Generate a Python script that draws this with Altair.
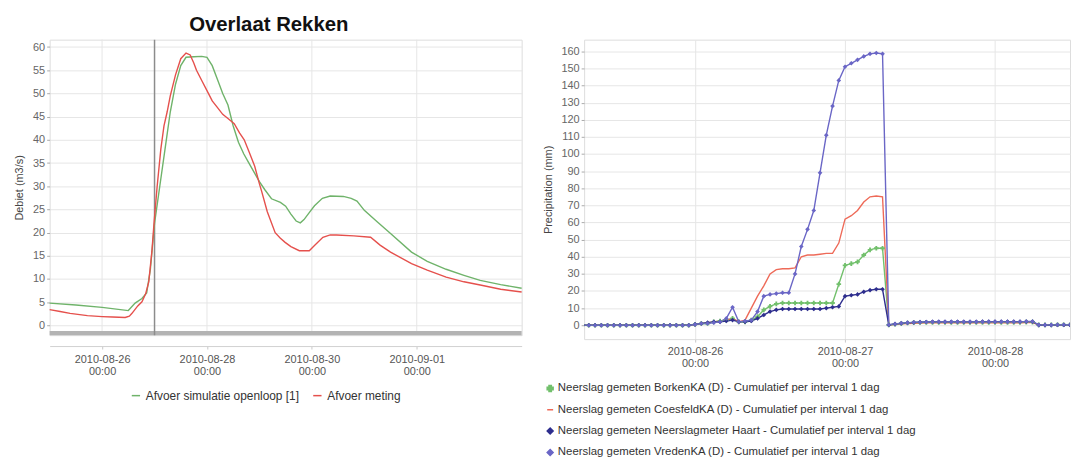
import altair as alt
import pandas as pd

FONT = "Liberation Sans"

# ---------------- Left panel: Overlaat Rekken (discharge, m3/s) ----------------
SIM_NAME = "Afvoer simulatie openloop [1]"
MET_NAME = "Afvoer meting"
left_start = "2010-08-25"
# day offsets from 2010-08-25 00:00
sim_day = [0.00, 0.50, 1.00, 1.50, 1.63, 1.76, 1.85, 1.92, 2.00, 2.10, 2.20, 2.30, 2.40,
           2.50, 2.60, 2.75, 2.90, 3.00, 3.10, 3.20, 3.30, 3.40, 3.50, 3.60, 3.70, 3.80,
           3.90, 4.00, 4.10, 4.23, 4.40, 4.50, 4.60, 4.70, 4.78, 4.85, 4.95, 5.05, 5.20,
           5.35, 5.60, 5.75, 5.86, 6.00, 6.25, 6.50, 6.90, 7.20, 7.56, 7.90, 8.21, 8.60, 9.00]
sim_val = [4.8, 4.4, 3.9, 3.2, 4.8, 5.8, 7.0, 12.0, 22.0, 30.0, 38.0, 46.0, 52.0,
           56.0, 57.8, 57.9, 58.0, 57.8, 56.0, 53.0, 50.0, 47.5, 43.0, 39.5, 37.0, 35.0,
           33.0, 31.0, 29.3, 27.3, 26.5, 25.7, 24.0, 22.5, 22.1, 22.8, 24.3, 25.8, 27.4,
           27.9, 27.8, 27.4, 26.8, 24.8, 22.3, 19.8, 15.8, 13.8, 12.1, 10.8, 9.7, 8.8, 8.0]
met_day = [0.00, 0.20, 0.39, 0.72, 1.00, 1.20, 1.44, 1.52, 1.57, 1.68, 1.76, 1.83, 1.89,
           1.95, 1.99, 2.05, 2.12, 2.18, 2.24, 2.30, 2.40, 2.50, 2.60, 2.68, 2.75, 2.80,
           2.90, 3.00, 3.10, 3.19, 3.30, 3.40, 3.52, 3.62, 3.71, 3.80, 3.91, 4.00, 4.04,
           4.15, 4.30, 4.40, 4.49, 4.60, 4.76, 4.95, 5.05, 5.21, 5.35, 5.47, 5.80, 6.12,
           6.30, 6.50, 6.90, 7.20, 7.56, 7.90, 8.21, 8.60, 9.00]
met_val = [3.4, 3.0, 2.6, 2.1, 1.9, 1.8, 1.7, 2.0, 2.6, 4.2, 5.1, 6.8, 9.4,
           16.0, 22.0, 30.0, 38.0, 43.0, 46.0, 49.5, 54.0, 57.5, 58.7, 58.3, 56.5, 55.0,
           52.8, 50.6, 48.4, 47.1, 45.5, 44.6, 43.5, 41.5, 40.0, 37.5, 34.3, 30.5, 29.0,
           24.5, 20.0, 18.8, 17.9, 17.0, 16.1, 16.1, 17.2, 19.0, 19.5, 19.5, 19.3, 19.0,
           17.3, 15.8, 13.3, 11.9, 10.4, 9.4, 8.7, 7.8, 7.2]
left_ticks = ["2010-08-26", "2010-08-28", "2010-08-30", "2010-09-01"]
left_now = ["2010-08-27"]
left_y_ticks = [0, 5, 10, 15, 20, 25, 30, 35, 40, 45, 50, 55, 60]

# ---------------- Right panel: cumulative precipitation (mm), hourly ----------------
rain_first_hour = "2010-08-25 06:00"
BORKEN = "Neerslag gemeten BorkenKA (D)  - Cumulatief per interval  1 dag"
COESFELD = "Neerslag gemeten CoesfeldKA (D)  - Cumulatief per interval  1 dag"
HAART = "Neerslag gemeten Neerslagmeter Haart  - Cumulatief per interval  1 dag"
VREDEN = "Neerslag gemeten VredenKA (D)  - Cumulatief per interval  1 dag"

borken = [0, 0, 0, 0, 0, 0, 0, 0, 0, 0, 0, 0, 0, 0, 0, 0, 0, 0,
          0.5, 1, 1, 2, 2.5, 3, 4, 2, 2, 3, 5, 9, 11, 12.5, 13, 13, 13, 13, 13, 13, 13,
          13, 13, 24, 35, 36, 37, 41, 44, 45, 45,
          0.2, 0.6, 1, 1.3, 1.5, 1.6, 1.7, 1.7, 1.7, 1.7, 1.7, 1.7, 1.7, 1.7, 1.7, 1.7,
          1.7, 1.7, 1.7, 1.7, 1.7, 1.7, 1.8, 1.8,
          0.2, 0.2, 0.2, 0.3, 0.3, 0.3]
coesfeld = [0, 0, 0, 0, 0, 0, 0, 0, 0, 0, 0, 0, 0, 0, 0, 0, 0, 0,
            0.5, 1, 1.5, 2, 2.5, 3, 4, 2, 3, 10, 17, 23, 30, 32.5, 33, 33, 33.5, 40, 41,
            41, 41.5, 42, 42, 48, 62, 64, 67, 72, 75, 75.5, 75,
            0.2, 0.5, 0.8, 1, 1.2, 1.3, 1.4, 1.5, 1.5, 1.5, 1.5, 1.5, 1.5, 1.5, 1.5, 1.5,
            1.5, 1.5, 1.5, 1.5, 1.5, 1.5, 1.6, 1.6,
            0.2, 0.2, 0.2, 0.3, 0.3, 0.3]
haart = [0, 0, 0, 0, 0, 0, 0, 0, 0, 0, 0, 0, 0, 0, 0, 0, 0, 0,
         0.5, 1, 1.5, 2, 2, 2.5, 3, 2, 2, 2.5, 4, 6, 8, 9, 9.5, 9.5, 9.5, 9.5, 9.5,
         9.5, 9.5, 10, 10.5, 11, 17, 17.5, 18, 19.5, 20.5, 21, 21,
         0.2, 0.7, 1.1, 1.4, 1.6, 1.8, 1.9, 2, 2, 2, 2, 2, 2, 2, 2, 2.1, 2.1, 2.1, 2.1,
         2.1, 2.1, 2.1, 2.1, 2.1,
         0.1, 0.1, 0.1, 0.2, 0.2, 0.2]
vreden = [0, 0, 0, 0, 0, 0, 0, 0, 0, 0, 0, 0, 0, 0, 0, 0, 0, 0,
          0.5, 1, 1, 1.5, 2, 4, 10.5, 2, 2.5, 3, 8, 17, 18, 18.5, 19, 19, 30, 46, 56,
          67, 89, 111, 128, 143, 151, 153, 155, 157, 158.5, 159, 158.5,
          0.3, 0.8, 1.2, 1.5, 1.7, 1.8, 1.9, 2, 2, 2, 2, 2, 2, 2, 2, 2, 2, 2, 2, 2, 2,
          2, 2.2, 2.2,
          0.2, 0.2, 0.2, 0.3, 0.3, 0.3]
right_ticks = ["2010-08-26", "2010-08-27", "2010-08-28"]
right_y_ticks = [0, 10, 20, 30, 40, 50, 60, 70, 80, 90, 100, 110, 120, 130, 140, 150, 160]


def iso(ts):
    return pd.Timestamp(ts).strftime("%Y-%m-%dT%H:%M:%S")


def dt(ts):
    t = pd.Timestamp(ts)
    return alt.DateTime(year=t.year, month=t.month, date=t.day, hours=t.hour, minutes=t.minute)


# ---- left frames ----
base = pd.Timestamp(left_start)
left_df = pd.DataFrame({
    "t": [iso(base + pd.to_timedelta(d, unit="D")) for d in sim_day]
         + [iso(base + pd.to_timedelta(d, unit="D")) for d in met_day],
    "v": sim_val + met_val,
    "s": [SIM_NAME] * len(sim_day) + [MET_NAME] * len(met_day),
})
left_grid_df = pd.DataFrame({"t": [iso(x) for x in left_ticks]})
left_now_df = pd.DataFrame({"t": [iso(x) for x in left_now]})
left_bar_df = pd.DataFrame({"t": [iso("2010-08-25")], "t1": [iso("2010-09-03")],
                            "v": [-2.1], "v1": [-1.2]})

label_expr = "[timeFormat(datum.value, '%Y-%m-%d'), timeFormat(datum.value, '%H:%M')]"

xl = alt.X("t:T",
           scale=alt.Scale(domain=[dt("2010-08-25"), dt("2010-09-03")]),
           axis=alt.Axis(values=[dt(x) for x in left_ticks], labelExpr=label_expr, title=None,
                         grid=False, offset=11, domainColor="#d0d0d0", tickColor="#c8c8c8",
                         tickSize=3, labelFontSize=11, labelColor="#555555", labelPadding=5,
                         labelLineHeight=12, labelFont=FONT))
yl = alt.Y("v:Q",
           scale=alt.Scale(domain=[-2.1, 61.6], nice=False, zero=False),
           axis=alt.Axis(values=left_y_ticks, title="Debiet (m3/s)", titleFontSize=11,
                         titleFontWeight="normal", titleColor="#444444", titleFont=FONT,
                         labelFontSize=11, labelColor="#666666", labelFont=FONT,
                         minExtent=22, maxExtent=22, titlePadding=3, grid=True,
                         gridColor="#e6e6e6", tickSize=3, tickColor="#aaaaaa", domain=False))

left_bar = alt.Chart(left_bar_df).mark_rect(color="#b3b3b3").encode(
    x=xl, x2="t1:T", y=yl, y2="v1:Q")
left_vgrid = alt.Chart(left_grid_df).mark_rule(color="#e6e6e6", strokeWidth=1).encode(x=xl)
left_nowline = alt.Chart(left_now_df).mark_rule(color="#8c8c8c", strokeWidth=1.5).encode(x=xl)
left_lines = alt.Chart(left_df).mark_line(strokeWidth=1.4).encode(
    x=xl, y=yl,
    color=alt.Color("s:N",
                    scale=alt.Scale(domain=[SIM_NAME, MET_NAME], range=["#6fb36a", "#e5504c"]),
                    legend=alt.Legend(orient="none", legendX=81, legendY=353,
                                      direction="horizontal", title=None,
                                      symbolType="stroke", symbolSize=70,
                                      symbolStrokeWidth=1.5, labelFontSize=12,
                                      labelColor="#333333", labelFont=FONT,
                                      labelOffset=4, columnPadding=10)),
)

left_chart = alt.layer(left_vgrid, left_bar, left_nowline, left_lines).properties(
    width=476, height=298,
    title=alt.TitleParams("Overlaat Rekken", fontSize=20.5, fontWeight="bold", font=FONT,
                          color="#111111", anchor="middle", offset=3, dx=-17),
)

# ---- right frames ----
hours = pd.date_range(rain_first_hour, periods=len(borken), freq="h")
names = [BORKEN, COESFELD, HAART, VREDEN]
series = [borken, coesfeld, haart, vreden]
rows = []
for name, vals in zip(names, series):
    for t, v in zip(hours, vals):
        rows.append({"t": iso(t), "v": v, "s": name})
right_df = pd.DataFrame(rows)

xr = alt.X("t:T",
           scale=alt.Scale(domain=[dt("2010-08-25 06:15"), dt("2010-08-28 12:00")]),
           axis=alt.Axis(values=[dt(x) for x in right_ticks], labelExpr=label_expr, title=None,
                         grid=True, gridColor="#e6e6e6", domain=False, tickColor="#c8c8c8",
                         tickSize=3, labelFontSize=11, labelColor="#555555", labelPadding=4,
                         labelLineHeight=12, labelFont=FONT))
yr = alt.Y("v:Q",
           scale=alt.Scale(domain=[-8.1, 166.8], nice=False, zero=False),
           axis=alt.Axis(values=right_y_ticks, title="Precipitation (mm)", titleFontSize=11,
                         titleFontWeight="normal", titleColor="#444444", titleFont=FONT,
                         labelFontSize=11, labelColor="#666666", labelFont=FONT,
                         minExtent=26, maxExtent=26, titlePadding=5, grid=True,
                         gridColor="#e6e6e6", tickSize=3, tickColor="#aaaaaa", domain=False))

rcolors = ["#72c06c", "#ee6a58", "#2e2e8e", "#6a66c6"]
rshapes = ["cross", "stroke", "diamond", "diamond"]

right_legend = alt.Legend(orient="none", legendX=-40, legendY=346, direction="vertical",
                          title=None, labelFontSize=11.5, labelColor="#333333", labelFont=FONT,
                          symbolSize=36, labelOffset=2, rowPadding=8.5, labelLimit=600)
rcolor = alt.Color("s:N", scale=alt.Scale(domain=names, range=rcolors), legend=right_legend)
rshape = alt.Shape("s:N", scale=alt.Scale(domain=names, range=rshapes), legend=right_legend)

right_lines = alt.Chart(right_df).mark_line(strokeWidth=1.4, clip=True).encode(
    x=xr, y=yr, color=rcolor,
)
right_points = alt.Chart(right_df).mark_point(filled=True, size=22, opacity=1, clip=True).encode(
    x=xr, y=yr, color=rcolor, shape=rshape,
)

right_chart = alt.layer(right_lines, right_points).properties(
    width=490, height=302,
    title=alt.TitleParams(" ", fontSize=20.5, font=FONT, offset=3),
)

chart = alt.hconcat(left_chart, right_chart, spacing=16).resolve_scale(
    color="independent", shape="independent", x="independent", y="independent"
).properties(
    padding={"left": 5, "top": 5, "right": 0, "bottom": 0}
).configure_view(stroke="#bdbdbd").configure(background="white")

chart.save("out.html", embed_options={"renderer": "svg", "actions": False})
